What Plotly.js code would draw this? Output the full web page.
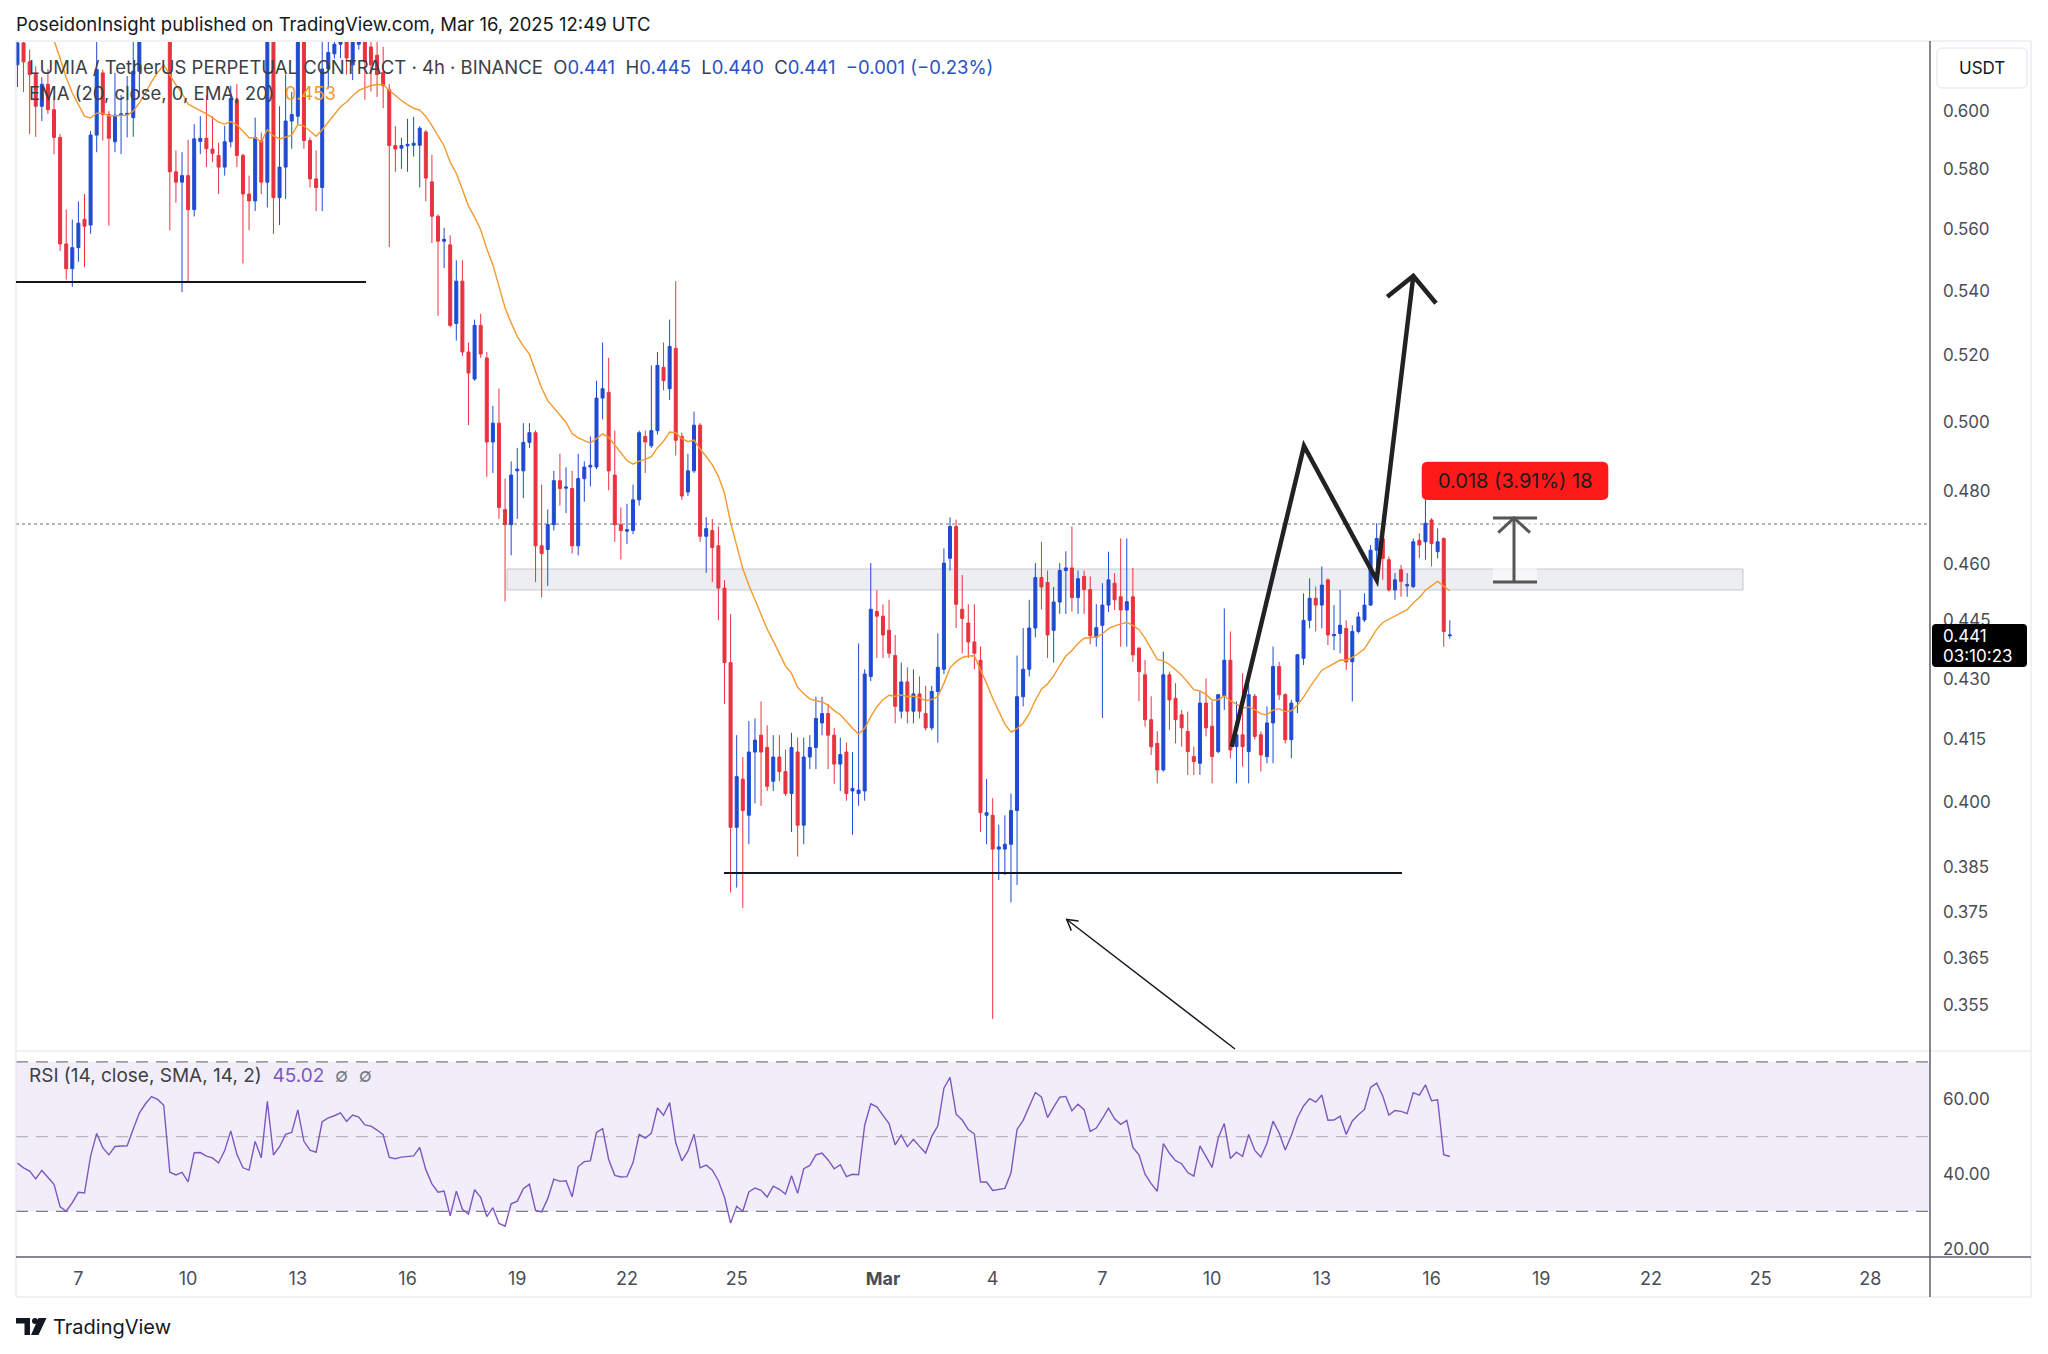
<!DOCTYPE html>
<html><head><meta charset="utf-8">
<script src="https://cdn.plot.ly/plotly-3.0.1.min.js"></script>
<style>html,body{margin:0;padding:0;background:#fff;}#chart{width:2048px;height:1354px;}</style>
</head><body><div id="chart"></div>
<script>
// ---------- DATA ----------
const startTime = '2025-02-05T08:00:00Z';   // first 4h candle
const intervalHours = 4;

const open = [
0.6165,0.6245,0.6176,0.6130,0.6017,0.6095,0.6005,0.5908,0.5550,0.5470,
0.5538,0.5631,0.5612,0.5916,0.6136,0.5988,0.5893,0.5986,0.5988,0.5977,
0.6142,0.6300,0.6400,0.6480,0.6460,0.6420,0.5790,0.5755,0.5777,0.5663,
0.5894,0.5905,0.5868,0.5846,0.5806,0.5893,0.6040,0.5846,0.5715,0.5692,
0.5897,0.5755,0.6340,0.5703,0.5806,0.5965,0.5982,0.6300,0.5897,0.5766,
0.5737,0.6150,0.6205,0.6240,0.6270,0.6165,0.6240,0.6250,0.6230,0.6200,
0.6138,0.6076,0.5880,0.5871,0.5879,0.5881,0.5881,0.5927,0.5756,0.5641,
0.5559,0.5547,0.5297,0.5430,0.5209,0.5127,0.5291,0.5191,0.4941,0.4996,
0.4749,0.4707,0.4858,0.4858,0.4940,0.4968,0.4649,0.4639,0.4707,0.4830,
0.4809,0.4808,0.4649,0.4836,0.4869,0.4869,0.5070,0.5087,0.4846,0.4707,
0.4689,0.4691,0.4776,0.4957,0.4930,0.4974,0.5162,0.5098,0.5220,0.4957,
0.4798,0.4858,0.4990,0.4675,0.4691,0.4649,0.4535,0.4341,0.3941,0.4054,
0.3969,0.4119,0.4160,0.4130,0.4049,0.4107,0.4072,0.4020,0.4119,0.3946,
0.4107,0.4130,0.4190,0.4213,0.4160,0.4090,0.4119,0.4026,0.4020,0.4026,
0.4306,0.4473,0.4461,0.4424,0.4359,0.4219,0.4292,0.4219,0.4262,0.4213,
0.4178,0.4268,0.4324,0.4615,0.4702,0.4479,0.4443,0.4394,0.4347,0.3969,
0.3969,0.3891,0.3891,0.3902,0.3980,0.4255,0.4324,0.4430,0.4563,0.4550,
0.4424,0.4498,0.4582,0.4589,0.4510,0.4566,0.4531,0.4406,0.4437,0.4490,
0.4548,0.4512,0.4477,0.4512,0.4378,0.4310,0.4198,0.4140,0.4076,0.4310,
0.4251,0.4210,0.4169,0.4108,0.4092,0.4239,0.4182,0.4120,0.4256,0.4347,
0.4132,0.4161,0.4120,0.4256,0.4161,0.4108,0.4190,0.4331,0.4260,0.4149,
0.4243,0.4352,0.4450,0.4508,0.4490,0.4557,0.4410,0.4416,0.4429,0.4343,
0.4421,0.4451,0.4490,0.4637,0.4669,0.4611,0.4530,0.4584,0.4541,0.4539,
0.4664,0.4660,0.4720,0.4633,0.4669,0.4410];

const high = [
0.6280,0.6280,0.6220,0.6160,0.6120,0.6150,0.6050,0.5920,0.5663,0.5630,
0.5690,0.5715,0.5930,0.6250,0.6148,0.6000,0.6136,0.6057,0.6125,0.6280,
0.6350,0.6420,0.6520,0.6550,0.6500,0.6460,0.5863,0.5857,0.5900,0.5954,
0.5982,0.6057,0.5982,0.5890,0.5948,0.6090,0.6096,0.5852,0.5777,0.5977,
0.5925,0.6400,0.6380,0.6017,0.6130,0.6068,0.6350,0.6350,0.5908,0.5863,
0.6250,0.6300,0.6300,0.6330,0.6320,0.6320,0.6280,0.6290,0.6280,0.6260,
0.6230,0.6096,0.5947,0.5907,0.5973,0.5980,0.5947,0.5934,0.5848,0.5647,
0.5603,0.5578,0.5497,0.5497,0.5238,0.5309,0.5327,0.5209,0.5047,0.5098,
0.4836,0.4885,0.4924,0.4996,0.4996,0.4975,0.4819,0.4749,0.4858,0.4907,
0.4868,0.4858,0.4907,0.4885,0.4957,0.5122,0.5238,0.5191,0.4974,0.4755,
0.4765,0.4819,0.4974,0.4974,0.5168,0.5209,0.5238,0.5309,0.5430,0.4968,
0.4907,0.5030,0.4996,0.4728,0.4723,0.4702,0.4556,0.4467,0.4160,0.4107,
0.4195,0.4201,0.4243,0.4184,0.4160,0.4160,0.4125,0.4166,0.4154,0.4154,
0.4160,0.4255,0.4255,0.4237,0.4178,0.4154,0.4142,0.4119,0.4390,0.4324,
0.4602,0.4529,0.4492,0.4504,0.4412,0.4341,0.4329,0.4324,0.4306,0.4282,
0.4282,0.4416,0.4642,0.4727,0.4721,0.4570,0.4492,0.4492,0.4382,0.4054,
0.4009,0.3947,0.3969,0.4020,0.4359,0.4430,0.4504,0.4602,0.4660,0.4582,
0.4538,0.4602,0.4634,0.4702,0.4582,0.4582,0.4566,0.4492,0.4548,0.4633,
0.4575,0.4669,0.4669,0.4589,0.4380,0.4348,0.4256,0.4170,0.4369,0.4318,
0.4289,0.4222,0.4218,0.4132,0.4268,0.4301,0.4243,0.4262,0.4481,0.4421,
0.4243,0.4314,0.4285,0.4262,0.4169,0.4231,0.4382,0.4343,0.4264,0.4247,
0.4363,0.4521,0.4561,0.4539,0.4593,0.4561,0.4490,0.4530,0.4450,0.4437,
0.4472,0.4521,0.4651,0.4711,0.4692,0.4620,0.4575,0.4597,0.4575,0.4669,
0.4683,0.4790,0.4725,0.4697,0.4672,0.4450];

const low = [
0.6085,0.6068,0.5920,0.5910,0.5965,0.5990,0.5850,0.5527,0.5435,0.5412,
0.5492,0.5475,0.5583,0.5857,0.5897,0.5610,0.5857,0.5851,0.5908,0.5910,
0.6050,0.6260,0.6360,0.6400,0.6350,0.5595,0.5686,0.5395,0.5424,0.5640,
0.5851,0.5806,0.5823,0.5715,0.5777,0.5874,0.5806,0.5487,0.5595,0.5658,
0.5715,0.5670,0.5583,0.5612,0.5698,0.5869,0.5954,0.5869,0.5737,0.5658,
0.5658,0.6080,0.6188,0.6190,0.6130,0.6110,0.6220,0.6040,0.6070,0.6050,
0.6010,0.5540,0.5790,0.5800,0.5790,0.5842,0.5737,0.5691,0.5553,0.5321,
0.5472,0.5285,0.5244,0.5197,0.4990,0.5122,0.5191,0.4841,0.4852,0.4723,
0.4500,0.4623,0.4723,0.4781,0.4924,0.4551,0.4510,0.4541,0.4691,0.4760,
0.4739,0.4628,0.4623,0.4771,0.4814,0.4863,0.5007,0.4803,0.4660,0.4612,
0.4654,0.4681,0.4760,0.4852,0.4924,0.4963,0.5093,0.5064,0.4902,0.4776,
0.4787,0.4852,0.4660,0.4576,0.4551,0.4450,0.4237,0.3793,0.3804,0.3759,
0.3902,0.3997,0.3991,0.4026,0.4026,0.4049,0.4014,0.3930,0.3874,0.3902,
0.4078,0.4078,0.4160,0.4078,0.4043,0.4026,0.4003,0.3924,0.3991,0.4003,
0.4294,0.4353,0.4353,0.4353,0.4189,0.4201,0.4189,0.4189,0.4201,0.4172,
0.4172,0.4142,0.4312,0.4582,0.4430,0.4365,0.4353,0.4324,0.3930,0.3902,
0.3522,0.3821,0.3832,0.3771,0.3810,0.4231,0.4306,0.4406,0.4479,0.4353,
0.4341,0.4467,0.4467,0.4473,0.4467,0.4467,0.4388,0.4382,0.4202,0.4472,
0.4477,0.4382,0.4382,0.4343,0.4244,0.4181,0.4112,0.4044,0.4072,0.4173,
0.4140,0.4132,0.4064,0.4064,0.4064,0.4157,0.4044,0.4116,0.4222,0.4104,
0.4044,0.4084,0.4044,0.4149,0.4072,0.4092,0.4092,0.4247,0.4140,0.4104,
0.4214,0.4335,0.4429,0.4421,0.4429,0.4386,0.4373,0.4365,0.4322,0.4243,
0.4416,0.4446,0.4488,0.4566,0.4557,0.4526,0.4504,0.4512,0.4512,0.4535,
0.4615,0.4611,0.4593,0.4615,0.4382,0.4403];

const close = [
0.6245,0.6176,0.6130,0.6017,0.6095,0.6005,0.5908,0.5550,0.5470,0.5538,
0.5618,0.5608,0.5916,0.6148,0.5988,0.5905,0.5986,0.5990,0.5992,0.6142,
0.6300,0.6400,0.6480,0.6460,0.6420,0.5790,0.5755,0.5777,0.5663,0.5903,
0.5905,0.5869,0.5853,0.5806,0.5893,0.6045,0.5846,0.5715,0.5692,0.5908,
0.5755,0.6340,0.5703,0.5806,0.5965,0.5988,0.6300,0.5897,0.5766,0.5737,
0.6150,0.6210,0.6240,0.6280,0.6190,0.6270,0.6250,0.6176,0.6165,0.6130,
0.6090,0.5880,0.5868,0.5880,0.5884,0.5888,0.5940,0.5769,0.5641,0.5559,
0.5565,0.5291,0.5430,0.5209,0.5145,0.5291,0.5203,0.4941,0.4996,0.4755,
0.4707,0.4846,0.4863,0.4940,0.4968,0.4649,0.4628,0.4707,0.4830,0.4808,
0.4812,0.4649,0.4836,0.4869,0.4874,0.5070,0.5098,0.4858,0.4707,0.4691,
0.4693,0.4776,0.4968,0.4941,0.4974,0.5168,0.5122,0.5226,0.4946,0.4787,
0.4858,0.4990,0.4675,0.4696,0.4644,0.4535,0.4341,0.3941,0.4060,0.3980,
0.4119,0.4148,0.4119,0.4037,0.4107,0.4072,0.4020,0.4130,0.3946,0.4107,
0.4130,0.4201,0.4213,0.4160,0.4090,0.4113,0.4020,0.4032,0.4028,0.4312,
0.4479,0.4461,0.4412,0.4365,0.4231,0.4292,0.4219,0.4262,0.4219,0.4178,
0.4268,0.4329,0.4602,0.4702,0.4492,0.4455,0.4394,0.4365,0.3975,0.3975,
0.3891,0.3896,0.3902,0.3980,0.4255,0.4324,0.4430,0.4563,0.4538,0.4412,
0.4498,0.4582,0.4589,0.4510,0.4560,0.4531,0.4410,0.4431,0.4490,0.4557,
0.4504,0.4477,0.4499,0.4361,0.4318,0.4198,0.4132,0.4076,0.4310,0.4247,
0.4198,0.4178,0.4120,0.4096,0.4239,0.4178,0.4108,0.4260,0.4347,0.4124,
0.4161,0.4132,0.4260,0.4157,0.4112,0.4190,0.4331,0.4260,0.4149,0.4239,
0.4361,0.4450,0.4508,0.4490,0.4543,0.4412,0.4413,0.4437,0.4343,0.4421,
0.4459,0.4490,0.4637,0.4669,0.4615,0.4530,0.4557,0.4553,0.4544,0.4660,
0.4651,0.4711,0.4655,0.4660,0.4421,0.4412];

const priceTickVals = [0.600,0.580,0.560,0.540,0.520,0.500,0.480,0.460,0.445,0.430,0.415,0.400,0.385,0.375,0.365,0.355];
const priceTickText = ['0.600','0.580','0.560','0.540','0.520','0.500','0.480','0.460','0.445','0.430','0.415','0.400','0.385','0.375','0.365','0.355'];
const dateTickVals = ['2025-02-07','2025-02-10','2025-02-13','2025-02-16','2025-02-19','2025-02-22','2025-02-25','2025-03-01','2025-03-04','2025-03-07','2025-03-10','2025-03-13','2025-03-16','2025-03-19','2025-03-22','2025-03-25','2025-03-28'];
const dateTickText = ['7','10','13','16','19','22','25','<b>Mar</b>','4','7','10','13','16','19','22','25','28'];
const rsiTickVals = [20,40,60];
const rsiTickText = ['20.00','40.00','60.00'];
const rsiLevels = [70,50,30];

// indicator settings (EMA 20, RSI 14) and their warm-up state before the first visible candle
const emaLength = 20, emaSeed = 0.645;
const rsiLength = 14, rsiPrevClose = 0.6165, rsiSeedGain = 0.0075, rsiSeedLoss = 0.0108;

// ---------- derived series ----------
const t0 = Date.parse(startTime);
const times = close.map((_, i) => new Date(t0 + i * intervalHours * 3600000).toISOString().slice(0,16).replace('T',' '));
const alpha = 2 / (emaLength + 1);
let e = emaSeed;
const ema = close.map(c => (e = e + alpha * (c - e)));
let ag = rsiSeedGain, al = rsiSeedLoss, prev = rsiPrevClose;
const rsi = close.map(c => {
  const ch = c - prev; prev = c;
  ag = (ag * (rsiLength - 1) + Math.max(ch, 0)) / rsiLength;
  al = (al * (rsiLength - 1) + Math.max(-ch, 0)) / rsiLength;
  return 100 - 100 / (1 + ag / al);
});

// ---------- styling ----------
const FONT = 'Inter, Roboto, "Noto Sans", sans-serif';
const BLUE = '#1e4bd2', RED = '#e8333f', ORANGE = '#f29a2e', PURPLE = '#7E57C2';
const L = 16, R = 1930, T = 42, B = 1257;           // plot area in pixels
const X = px => (px - L) / (R - L);
const Y = py => (B - py) / (B - T);
const pt = (x, y) => `${X(x).toFixed(5)},${Y(y).toFixed(5)}`;
function seg(x0, y0, x1, y1, color, width, dash, layer) {
  return {type:'line', xref:'paper', yref:'paper', x0:X(x0), y0:Y(y0), x1:X(x1), y1:Y(y1),
          line:{color, width, dash: dash || 'solid'}, layer: layer || 'above'};
}
function poly(points, color, width, fill, layer) {
  const d = 'M ' + points.map(p => pt(p[0], p[1])).join(' L ') + (fill ? ' Z' : '');
  return {type:'path', xref:'paper', yref:'paper', path:d, line:{color, width}, fillcolor: fill || 'rgba(0,0,0,0)', layer: layer || 'above'};
}
function rrect(x0, y0, x1, y1, r, fill, lineColor, lw, layer) {
  const d = `M ${pt(x0+r,y0)} L ${pt(x1-r,y0)} Q ${pt(x1,y0)} ${pt(x1,y0+r)} L ${pt(x1,y1-r)} Q ${pt(x1,y1)} ${pt(x1-r,y1)} L ${pt(x0+r,y1)} Q ${pt(x0,y1)} ${pt(x0,y1-r)} L ${pt(x0,y0+r)} Q ${pt(x0,y0)} ${pt(x0+r,y0)} Z`;
  return {type:'path', xref:'paper', yref:'paper', path:d, fillcolor:fill, line:{color:lineColor||fill, width:lw||0}, layer: layer || 'above'};
}
function txt(x, y, text, size, color, anchor) {
  return {xref:'paper', yref:'paper', x:X(x), y:Y(y), text, showarrow:false, xanchor:anchor||'left', yanchor:'middle',
          font:{size, color, family:FONT}, borderpad:0};
}

const shapes = [
  // RSI zone
  {type:'rect', xref:'paper', yref:'y2', x0:0, x1:1, y0:30, y1:70, fillcolor:'rgba(126,87,194,0.1)', line:{width:0}, layer:'below'},
  ...rsiLevels.map(v => ({type:'line', xref:'paper', yref:'y2', x0:0, x1:1, y0:v, y1:v,
      line:{color: v === 50 ? 'rgba(120,123,134,0.5)' : '#787b86', width:1.3, dash:'12px,8px'}, layer:'below'})),
  // frame
  seg(L, 41, 2031, 41, '#e0e3eb', 1),
  seg(L, 1051, 2031, 1051, '#e0e3eb', 1),
  seg(L, 1297, 2031, 1297, '#e0e3eb', 1),
  seg(L, 41, L, 1297, '#e0e3eb', 1),
  seg(2031, 41, 2031, 1297, '#e0e3eb', 1),
  seg(R, 41, R, 1297, '#5d606b', 1.5),
  seg(L, B, 2031, B, '#5d606b', 1.5),
  // drawings
  {type:'rect', xref:'paper', yref:'paper', x0:X(507), x1:X(1743), y0:Y(590), y1:Y(569),
   fillcolor:'rgba(215,218,226,0.45)', line:{color:'rgba(190,194,204,0.9)', width:1}, layer:'below'},
  seg(L, 524, R, 524, '#6a6d78', 1, 'dot', 'below'),
  seg(L, 282, 366, 282, '#131722', 2),
  seg(724, 873, 1402, 873, '#131722', 2),
  poly([[1231.7,746.7],[1304,446],[1376.7,580],[1413.3,276]], '#222222', 4.5),
  poly([[1387.3,296.7],[1413.3,276],[1436,303.3]], '#222222', 4.5),
  seg(1235, 1049, 1066.7, 919.5, '#131722', 1.5),
  poly([[1071.3,930.6],[1066.7,919.5],[1078.6,921.1]], '#131722', 1.5),
  // measure tool
  {type:'rect', xref:'paper', yref:'paper', x0:X(1493), x1:X(1537), y0:Y(582), y1:Y(518), fillcolor:'rgba(255,255,255,0.55)', line:{width:0}, layer:'below'},
  seg(1514, 518, 1514, 582, '#555555', 3),
  seg(1493, 518, 1537, 518, '#555555', 3),
  seg(1493, 582, 1537, 582, '#555555', 3),
  poly([[1498.3,532.7],[1514,518],[1530,532.7]], '#555555', 3),
  rrect(1421.7, 461.7, 1608.3, 500, 6, '#ff1a1a'),
  // axis extras
  rrect(1937, 48, 2027, 88, 6, '#ffffff', '#e0e3eb', 1),
  rrect(1932, 624, 2027, 667, 4, '#000000'),
  // TradingView logo
  poly([[16,1318],[30,1318],[30,1335],[24.5,1335],[24.5,1323.5],[16,1323.5]], '#131722', 0, '#131722'),
  {type:'circle', xref:'paper', yref:'paper', x0:X(32), x1:X(38), y0:Y(1324), y1:Y(1318), fillcolor:'#131722', line:{width:0}},
  poly([[38.5,1318],[46.5,1318],[38.5,1335],[31,1335]], '#131722', 0, '#131722')
];

const sp = '&nbsp;&nbsp;';
const v = s => `<span style="color:#2a4fc6">${s}</span>`;
const legend1 = 'LUMIA / TetherUS PERPETUAL CONTRACT · 4h · BINANCE' + sp + 'O' + v('0.441') + sp + 'H' + v('0.445') + sp + 'L' + v('0.440') + sp + 'C' + v('0.441') + sp + v('−0.001 (−0.23%)');
const legend2 = 'EMA (20, close, 0, EMA, 20)' + sp + `<span style="color:${ORANGE}">0.453</span>`;
const legend3 = 'RSI (14, close, SMA, 14, 2)' + sp + `<span style="color:${PURPLE}">45.02</span>` + sp + '<span style="color:#787b86">∅' + sp + '∅</span>';

const annotations = [
  txt(15, 24, 'PoseidonInsight published on TradingView.com, Mar 16, 2025 12:49 UTC', 18.5, '#131722'),
  txt(28, 67, legend1, 18.5, '#3d3f47'),
  txt(28, 93, legend2, 18.5, '#3d3f47'),
  txt(28, 1075, legend3, 19, '#3d3f47'),
  txt(1982, 68, 'USDT', 17, '#131722', 'center'),
  txt(1942, 636, '0.441', 17, '#ffffff'),
  txt(1942, 656, '03:10:23', 17, '#ffffff'),
  txt(1515, 481, '0.018 (3.91%) 18', 20, '#1a1a1a', 'center'),
  txt(52, 1327, 'TradingView', 20, '#131722')
];

const traces = [
  {type:'candlestick', x:times, open, high, low, close, xaxis:'x', yaxis:'y',
   increasing:{line:{color:BLUE, width:1}, fillcolor:BLUE},
   decreasing:{line:{color:RED, width:1}, fillcolor:RED},
   whiskerwidth:0, hoverinfo:'skip', showlegend:false},
  {type:'scatter', mode:'lines', x:times, y:ema, xaxis:'x', yaxis:'y', line:{color:ORANGE, width:1.4}, hoverinfo:'skip', showlegend:false},
  {type:'scatter', mode:'lines', x:times, y:rsi, xaxis:'x', yaxis:'y2', line:{color:PURPLE, width:1.4}, hoverinfo:'skip', showlegend:false}
];

const paneSplit = (B - 1051) / (B - T);
const layout = {
  width:2048, height:1354, autosize:false,
  margin:{l:L, r:2048 - R, t:T, b:1354 - B, pad:0},
  paper_bgcolor:'#ffffff', plot_bgcolor:'rgba(0,0,0,0)',
  font:{family:FONT, color:'#131722'},
  showlegend:false, hovermode:false, dragmode:false,
  xaxis:{type:'date', range:['2025-02-05 07:03','2025-03-29 15:07'], anchor:'y2',
         tickmode:'array', tickvals:dateTickVals, ticktext:dateTickText,
         showgrid:false, zeroline:false, showline:false, ticks:'', ticklabelstandoff:9,
         tickfont:{size:18, color:'#4a4d57', family:FONT}, rangeslider:{visible:false}, fixedrange:true},
  yaxis:{type:'log', domain:[paneSplit, 1], range:[-0.46140, -0.20424], side:'right',
         tickmode:'array', tickvals:priceTickVals, ticktext:priceTickText,
         showgrid:false, zeroline:false, showline:false, ticks:'', ticklabelstandoff:12,
         tickfont:{size:17, color:'#4a4d57', family:FONT}, fixedrange:true},
  yaxis2:{domain:[0, paneSplit], range:[17.8, 72.9], side:'right',
         tickmode:'array', tickvals:rsiTickVals, ticktext:rsiTickText,
         showgrid:false, zeroline:false, showline:false, ticks:'', ticklabelstandoff:12,
         tickfont:{size:17, color:'#4a4d57', family:FONT}, fixedrange:true},
  shapes, annotations
};

Plotly.newPlot('chart', traces, layout, {staticPlot:true, displayModeBar:false});
</script>
</body></html>
